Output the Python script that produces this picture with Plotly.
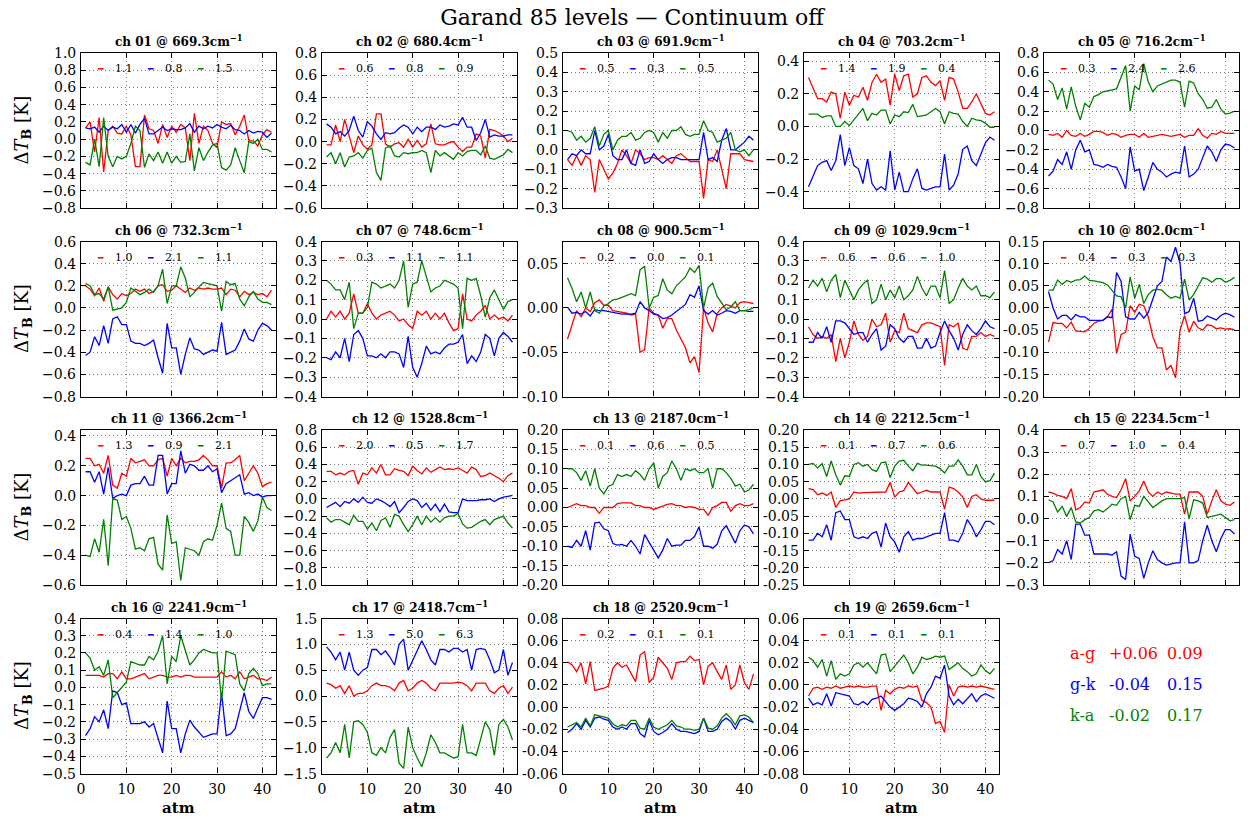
import plotly.graph_objects as go

W, H = 1253, 823

# ---------------- data ----------------
channel_ids = ["01", "02", "03", "04", "05", "06", "07", "08", "09", "10",
               "11", "12", "13", "14", "15", "16", "17", "18", "19"]
wavenumbers = ["669.3", "680.4", "691.9", "703.2", "716.2", "732.3", "748.6", "900.5", "1029.9", "802.0",
               "1366.2", "1528.8", "2187.0", "2212.5", "2234.5", "2241.9", "2418.7", "2520.9", "2659.6"]
y_lo = [-0.8, -0.6, -0.3, -0.5, -0.8, -0.8, -0.4, -0.10, -0.4, -0.20,
        -0.6, -1.0, -0.20, -0.25, -0.3, -0.5, -1.5, -0.06, -0.08]
y_hi = [1.0, 0.8, 0.5, 0.45, 0.8, 0.6, 0.4, 0.075, 0.4, 0.15,
        0.44, 0.8, 0.20, 0.20, 0.4, 0.4, 1.5, 0.08, 0.06]
y_step = [0.2, 0.2, 0.1, 0.2, 0.2, 0.2, 0.1, 0.05, 0.1, 0.05,
          0.2, 0.2, 0.05, 0.05, 0.1, 0.1, 0.5, 0.02, 0.02]
x_ticks = [0, 10, 20, 30, 40]
leg_ag = ["1.1", "0.6", "0.5", "1.4", "0.3", "1.0", "0.3", "0.2", "0.6", "0.4",
          "1.3", "2.0", "0.1", "0.1", "0.7", "0.4", "1.3", "0.2", "0.1"]
leg_gk = ["0.8", "0.8", "0.3", "1.9", "2.4", "2.1", "1.1", "0.0", "0.6", "0.3",
          "0.9", "0.5", "0.6", "0.7", "1.0", "1.4", "5.0", "0.1", "0.1"]
leg_ka = ["1.5", "0.9", "0.5", "0.4", "2.6", "1.1", "1.1", "0.1", "1.0", "0.3",
          "2.1", "1.7", "0.5", "0.6", "0.4", "1.0", "6.3", "0.1", "0.1"]

pair_names = ["a-g", "g-k", "k-a"]
pair_mean = ["+0.06", "-0.04", "-0.02"]
pair_sd = ["0.09", "0.15", "0.17"]

ag01 = [0.13, 0.20, -0.15, 0.25, -0.38, 0.10, 0.15, 0.07, 0.06, 0.15,
        0.05, -0.32, -0.32, 0.28, 0.12, 0.10, -0.05, 0.17, 0.02, 0.15,
        0.08, 0.17, 0.13, -0.25, 0.30, -0.05, 0.15, 0.10, -0.05, -0.10,
        0.20, 0.17, 0.18, 0.05, 0.15, 0.28, -0.02, -0.02, -0.08, 0.05,
        0.11, 0.08]
gk01 = [0.13, 0.12, 0.14, 0.08, 0.15, 0.10, 0.14, 0.12, 0.17, 0.08,
        0.17, 0.07, 0.17, 0.24, 0.06, 0.06, 0.10, 0.14, 0.10, 0.12,
        0.11, 0.11, 0.13, 0.18, 0.08, 0.15, 0.12, 0.15, 0.13, 0.17,
        0.14, 0.12, 0.16, 0.11, 0.10, 0.06, 0.10, 0.07, 0.09, 0.08,
        0.02, 0.07]
ka01 = [-0.27, -0.30, 0.00, -0.32, 0.25, -0.20, -0.32, -0.20, -0.23, -0.20,
        -0.05, 0.15, 0.10, -0.33, -0.17, -0.25, -0.15, -0.28, -0.15, -0.28,
        -0.20, -0.27, -0.26, 0.06, -0.37, -0.10, -0.25, -0.15, -0.07, -0.05,
        -0.33, -0.36, -0.30, -0.10, -0.25, -0.39, -0.03, -0.05, 0.00, -0.12,
        -0.12, -0.15]

ag02 = [-0.03, -0.03, 0.15, 0.00, 0.20, 0.05, -0.10, 0.05, -0.03, -0.07,
        -0.03, 0.25, 0.25, -0.02, -0.05, -0.02, -0.01, -0.05, 0.02, -0.05,
        0.01, -0.05, -0.02, 0.16, -0.02, -0.03, -0.03, -0.01, 0.00, -0.05,
        -0.09, -0.05, -0.05, 0.07, 0.05, -0.15, 0.11, 0.10, 0.08, 0.05,
        0.00, 0.03]
gk02 = [0.16, 0.13, 0.07, 0.09, 0.05, 0.10, 0.23, 0.10, 0.04, 0.18,
        0.14, 0.07, 0.02, 0.08, 0.07, 0.08, 0.12, 0.15, 0.13, 0.07,
        0.13, 0.09, 0.13, 0.13, 0.11, 0.15, 0.13, 0.14, 0.16, 0.15,
        0.22, 0.13, 0.13, 0.01, 0.08, 0.20, 0.04, 0.06, 0.05, 0.05,
        0.06, 0.06]
ka02 = [-0.14, -0.10, -0.20, -0.10, -0.23, -0.14, -0.13, -0.10, -0.15, -0.08,
        -0.06, -0.28, -0.35, -0.06, -0.04, -0.13, -0.14, -0.10, -0.11, -0.10,
        -0.10, -0.08, -0.10, -0.28, -0.08, -0.13, -0.10, -0.13, -0.16, -0.10,
        -0.13, -0.09, -0.08, -0.08, -0.12, -0.04, -0.15, -0.16, -0.14, -0.12,
        -0.07, -0.10]

ag03 = [-0.05, -0.08, -0.03, -0.08, -0.03, -0.05, -0.22, -0.05, -0.10, -0.15,
        -0.12, -0.07, 0.00, -0.03, -0.07, 0.00, -0.02, -0.05, -0.04, -0.04,
        -0.05, -0.03, -0.05, -0.07, -0.03, -0.02, -0.04, -0.06, -0.06, -0.06,
        -0.25, -0.05, -0.06, 0.00, -0.10, -0.20, -0.02, -0.02, -0.02, -0.05,
        -0.055, -0.06]
gk03 = [-0.05, -0.02, -0.03, 0.00, -0.02, -0.02, 0.10, 0.00, 0.02, 0.08,
        -0.03, -0.05, -0.05, 0.00, -0.07, -0.08, 0.00, -0.07, -0.06, -0.02,
        -0.05, -0.07, -0.05, -0.04, -0.04, -0.05, -0.05, -0.05, -0.05, -0.05,
        0.09, -0.05, -0.04, -0.06, 0.05, 0.11, 0.00, 0.00, 0.02, 0.04,
        0.07, 0.05]
ka03 = [0.10, 0.09, 0.05, 0.07, 0.04, 0.06, 0.12, 0.02, 0.08, 0.10,
        0.00, 0.05, 0.07, 0.07, 0.09, 0.05, 0.06, 0.09, 0.10, 0.09,
        0.04, 0.09, 0.06, 0.10, 0.10, 0.12, 0.08, 0.07, 0.08, 0.08,
        0.15, 0.10, 0.09, 0.04, 0.05, 0.06, 0.09, 0.00, -0.01, 0.00,
        -0.03, 0.00]

ag04 = [0.30, 0.23, 0.17, 0.17, 0.15, 0.21, 0.20, 0.05, 0.21, 0.13,
        0.19, 0.18, 0.24, 0.16, 0.27, 0.32, 0.27, 0.29, 0.13, 0.32,
        0.22, 0.31, 0.32, 0.18, 0.20, 0.30, 0.31, 0.27, 0.25, 0.28,
        0.16, 0.30, 0.29, 0.21, 0.11, 0.11, 0.15, 0.20, 0.14, 0.08,
        0.07, 0.09]
gk04 = [-0.37, -0.30, -0.24, -0.22, -0.21, -0.27, -0.21, -0.05, -0.24, -0.13,
        -0.24, -0.26, -0.35, -0.20, -0.35, -0.39, -0.37, -0.39, -0.15, -0.39,
        -0.28, -0.40, -0.40, -0.32, -0.26, -0.38, -0.39, -0.38, -0.37, -0.37,
        -0.17, -0.39, -0.36, -0.29, -0.14, -0.12, -0.21, -0.24, -0.17, -0.10,
        -0.065, -0.085]
ka04 = [0.075, 0.075, 0.075, 0.055, 0.065, 0.065, 0.00, 0.00, 0.03, 0.005,
        0.04, 0.08, 0.11, 0.035, 0.08, 0.07, 0.10, 0.10, 0.015, 0.07,
        0.06, 0.09, 0.085, 0.135, 0.06, 0.065, 0.07, 0.09, 0.11, 0.09,
        0.015, 0.09, 0.08, 0.075, 0.03, 0.00, 0.05, 0.04, 0.035, 0.02,
        -0.005, -0.005]

ag05 = [-0.04, -0.05, -0.03, -0.07, 0.00, -0.05, -0.06, -0.03, -0.06, -0.04,
        -0.01, -0.01, -0.02, -0.05, -0.03, -0.04, -0.07, -0.05, -0.04, -0.04,
        -0.07, -0.03, -0.07, -0.06, -0.05, -0.04, -0.05, -0.06, -0.05, -0.04,
        -0.07, -0.05, -0.05, 0.02, -0.05, -0.08, -0.03, -0.04, -0.01, -0.03,
        -0.03, -0.03]
gk05 = [-0.47, -0.42, -0.30, -0.35, -0.22, -0.40, -0.20, -0.10, -0.22, -0.20,
        -0.35, -0.36, -0.38, -0.35, -0.37, -0.38, -0.48, -0.60, -0.17, -0.42,
        -0.40, -0.62, -0.48, -0.33, -0.40, -0.43, -0.48, -0.45, -0.43, -0.44,
        -0.16, -0.48, -0.45, -0.40, -0.28, -0.16, -0.22, -0.32, -0.20, -0.14,
        -0.15, -0.18]
ka05 = [0.52, 0.48, 0.32, 0.44, 0.22, 0.45, 0.25, 0.11, 0.28, 0.24,
        0.35, 0.37, 0.40, 0.41, 0.42, 0.43, 0.55, 0.67, 0.20, 0.46,
        0.42, 0.69, 0.50, 0.40, 0.46, 0.48, 0.50, 0.52, 0.52, 0.50,
        0.24, 0.51, 0.49, 0.38, 0.32, 0.23, 0.24, 0.32, 0.22, 0.17,
        0.18, 0.20]

ag06 = [0.20, 0.17, 0.11, 0.18, 0.06, 0.19, 0.12, 0.08, 0.13, 0.11,
        0.13, 0.17, 0.15, 0.17, 0.13, 0.15, 0.20, 0.21, 0.15, 0.16,
        0.20, 0.17, 0.14, 0.18, 0.16, 0.18, 0.17, 0.18, 0.17, 0.17,
        0.18, 0.12, 0.17, 0.16, 0.10, 0.15, 0.12, 0.14, 0.12, 0.13,
        0.10, 0.16]
gk06 = [-0.43, -0.40, -0.26, -0.34, -0.16, -0.32, -0.10, -0.08, -0.15, -0.15,
        -0.30, -0.32, -0.32, -0.34, -0.32, -0.29, -0.45, -0.59, -0.14, -0.36,
        -0.36, -0.60, -0.42, -0.27, -0.37, -0.38, -0.42, -0.40, -0.38, -0.39,
        -0.13, -0.42, -0.40, -0.38, -0.30, -0.19, -0.28, -0.30, -0.20, -0.14,
        -0.16, -0.20]
ka06 = [0.22, 0.20, 0.12, 0.13, 0.08, 0.19, -0.02, -0.01, 0.00, 0.05,
        0.18, 0.15, 0.12, 0.14, 0.17, 0.14, 0.20, 0.35, 0.04, 0.20,
        0.20, 0.37, 0.27, 0.10, 0.14, 0.19, 0.23, 0.22, 0.21, 0.20,
        -0.03, 0.24, 0.21, 0.22, 0.08, 0.02, 0.10, 0.15, 0.08, 0.05,
        0.05, 0.03]

ag07 = [0.00, 0.04, 0.01, 0.04, 0.00, 0.03, 0.13, 0.03, 0.03, 0.08,
        0.03, 0.00, 0.02, 0.03, 0.04, 0.02, -0.01, 0.00, -0.03, -0.05,
        0.04, 0.02, 0.04, 0.00, 0.03, 0.00, 0.03, -0.02, -0.06, -0.05,
        0.13, 0.00, -0.01, 0.02, 0.04, 0.07, 0.00, 0.02, 0.00, 0.01,
        -0.01, 0.02]
gk07 = [-0.20, -0.21, -0.17, -0.20, -0.10, -0.22, -0.08, -0.06, -0.10, -0.19,
        -0.19, -0.20, -0.18, -0.20, -0.17, -0.17, -0.18, -0.25, -0.09, -0.25,
        -0.30, -0.23, -0.14, -0.18, -0.17, -0.18, -0.15, -0.13, -0.13, -0.12,
        -0.08, -0.23, -0.19, -0.22, -0.17, -0.08, -0.10, -0.19, -0.10, -0.07,
        -0.09, -0.12]
ka07 = [0.20, 0.18, 0.15, 0.15, 0.10, 0.19, -0.05, 0.03, 0.03, 0.06,
        0.19, 0.18, 0.16, 0.17, 0.18, 0.16, 0.20, 0.30, 0.06, 0.18,
        0.19, 0.30, 0.22, 0.14, 0.16, 0.17, 0.20, 0.19, 0.18, 0.16,
        -0.05, 0.21, 0.20, 0.21, 0.12, 0.01, 0.11, 0.15, 0.10, 0.05,
        0.09, 0.10]

ag08 = [-0.035, -0.02, -0.003, -0.01, 0.0, -0.004, 0.006, 0.009, 0.003, 0.003,
        -0.003, -0.004, -0.005, -0.006, -0.008, -0.007, -0.05, -0.047, 0.0, -0.006,
        -0.008, -0.023, -0.012, -0.012, -0.025, -0.035, -0.045, -0.062, -0.055, -0.073,
        0.0, -0.017, -0.027, -0.006, 0.0, 0.004, 0.002, 0.0, 0.006, 0.007,
        0.006, 0.005]
gk08 = [0.001, -0.006, -0.005, -0.007, -0.004, -0.009, -0.002, -0.003, -0.003, -0.004,
        -0.005, -0.006, -0.007, -0.007, -0.007, -0.006, 0.007, 0.0, -0.003, -0.007,
        -0.008, -0.012, -0.011, -0.008, -0.004, 0.0, 0.004, 0.015, 0.012, 0.025,
        -0.003, -0.007, -0.003, -0.008, -0.006, -0.003, -0.004, -0.006, -0.003, -0.003,
        -0.004, -0.004]
ka08 = [0.034, 0.022, 0.007, 0.018, 0.0, 0.018, -0.003, -0.006, 0.002, 0.005,
        0.009, 0.01, 0.012, 0.014, 0.016, 0.014, 0.043, 0.047, 0.0, 0.012,
        0.014, 0.033, 0.02, 0.016, 0.025, 0.03, 0.035, 0.045, 0.04, 0.048,
        0.0, 0.023, 0.028, 0.013, 0.005, -0.002, 0.001, 0.007, -0.003, -0.003,
        -0.002, 0.0]

ag09 = [-0.04, -0.08, -0.10, -0.09, -0.10, -0.08, -0.22, -0.10, -0.20, -0.12,
        -0.01, -0.08, -0.11, -0.09, 0.00, -0.04, -0.03, 0.03, -0.12, -0.06,
        -0.07, 0.03, -0.05, -0.06, -0.07, -0.03, -0.02, -0.02, -0.03, -0.04,
        -0.24, -0.03, -0.04, -0.02, -0.15, -0.16, -0.09, -0.09, -0.07, -0.09,
        -0.08, -0.09]
gk09 = [-0.12, -0.12, -0.07, -0.10, -0.04, -0.12, -0.01, -0.01, -0.02, -0.05,
        -0.08, -0.07, -0.07, -0.12, -0.08, -0.05, -0.16, -0.14, -0.03, -0.05,
        -0.10, -0.12, -0.09, -0.09, -0.15, -0.15, -0.10, -0.15, -0.14, -0.07,
        -0.01, -0.06, -0.10, -0.16, -0.08, -0.03, -0.06, -0.08, -0.05, -0.01,
        -0.04, -0.05]
ka09 = [0.16, 0.20, 0.17, 0.21, 0.14, 0.20, 0.23, 0.11, 0.20, 0.15,
        0.10, 0.15, 0.18, 0.20, 0.08, 0.10, 0.18, 0.10, 0.15, 0.11,
        0.17, 0.10, 0.12, 0.15, 0.22, 0.16, 0.12, 0.17, 0.17, 0.11,
        0.25, 0.08, 0.10, 0.16, 0.21, 0.17, 0.15, 0.17, 0.12, 0.12,
        0.11, 0.14]

ag10 = [-0.077, -0.033, -0.035, -0.035, -0.045, -0.032, -0.052, -0.053, -0.054, -0.046,
        -0.035, -0.030, -0.028, -0.020, -0.003, -0.103, -0.060, -0.055, 0.005, -0.010,
        0.008, 0.005, -0.020, -0.065, -0.090, -0.090, -0.140, -0.130, -0.158, -0.050,
        -0.017, -0.055, -0.030, -0.045, -0.050, -0.038, -0.040, -0.047, -0.045, -0.048,
        -0.047, -0.049]
gk10 = [0.037, 0.000, -0.025, -0.017, -0.017, -0.027, -0.015, -0.020, -0.020, -0.028,
        -0.028, -0.028, -0.028, -0.020, -0.022, 0.080, 0.060, -0.020, -0.025, -0.025,
        -0.010, -0.023, -0.010, 0.020, 0.050, 0.060, 0.115, 0.105, 0.137, 0.100,
        -0.013, -0.008, 0.022, -0.030, -0.028, -0.018, -0.022, -0.027, -0.017, -0.012,
        -0.015, -0.021]
ka10 = [0.040, 0.040, 0.063, 0.053, 0.062, 0.058, 0.063, 0.064, 0.072, 0.062,
        0.061, 0.059, 0.057, 0.052, 0.040, 0.027, 0.025, 0.000, 0.070, 0.022,
        0.053, 0.010, 0.030, 0.040, 0.042, 0.040, 0.030, 0.022, 0.026, 0.022,
        0.065, 0.018, 0.030, 0.050, 0.068, 0.065, 0.058, 0.066, 0.066, 0.058,
        0.062, 0.069]

ag11 = [0.25, 0.25, 0.20, 0.21, 0.15, 0.27, 0.07, 0.05, 0.15, 0.13,
        0.25, 0.22, 0.23, 0.24, 0.20, 0.20, 0.24, 0.25, 0.13, 0.25,
        0.20, 0.25, 0.22, 0.23, 0.23, 0.24, 0.27, 0.24, 0.20, 0.20,
        0.05, 0.22, 0.22, 0.24, 0.27, 0.10, 0.15, 0.20, 0.15, 0.06,
        0.08, 0.09]
gk11 = [0.16, 0.16, 0.09, 0.16, 0.01, 0.19, -0.02, 0.00, 0.01, 0.00,
        0.07, 0.08, 0.08, 0.13, 0.07, 0.07, 0.27, 0.27, 0.01, 0.08,
        0.08, 0.30, 0.15, 0.21, 0.20, 0.17, 0.17, 0.20, 0.16, 0.18,
        0.02, 0.08, 0.10, 0.12, 0.14, 0.01, 0.02, 0.00, 0.01, -0.01,
        0.00, 0.00]
ka11 = [-0.40, -0.41, -0.29, -0.38, -0.16, -0.47, -0.02, -0.03, -0.16, -0.14,
        -0.22, -0.36, -0.35, -0.37, -0.29, -0.28, -0.46, -0.50, -0.13, -0.32,
        -0.31, -0.57, -0.35, -0.36, -0.37, -0.40, -0.31, -0.29, -0.30, -0.20,
        -0.05, -0.22, -0.24, -0.40, -0.40, -0.14, -0.18, -0.24, -0.17, -0.01,
        -0.08, -0.10]

ag12 = [0.32, 0.32, 0.28, 0.30, 0.28, 0.32, 0.33, 0.17, 0.30, 0.28,
        0.36, 0.30, 0.40, 0.28, 0.28, 0.35, 0.33, 0.32, 0.27, 0.38,
        0.33, 0.29, 0.36, 0.31, 0.34, 0.37, 0.34, 0.35, 0.34, 0.36,
        0.33, 0.30, 0.37, 0.34, 0.26, 0.27, 0.30, 0.27, 0.24, 0.20,
        0.27, 0.30]
gk12 = [-0.10, -0.07, -0.04, -0.09, -0.03, -0.05, 0.00, -0.04, 0.02, -0.04,
        -0.05, 0.00, -0.02, -0.05, -0.09, -0.03, -0.16, -0.10, -0.03, 0.00,
        -0.02, -0.10, -0.05, -0.13, -0.06, -0.15, -0.06, -0.15, -0.16, -0.16,
        0.00, -0.02, -0.02, -0.02, -0.01, -0.01, 0.00, -0.03, 0.00, 0.02,
        0.03, 0.04]
ka12 = [-0.22, -0.27, -0.24, -0.24, -0.27, -0.30, -0.19, -0.26, -0.26, -0.35,
        -0.28, -0.37, -0.25, -0.22, -0.33, -0.18, -0.20, -0.30, -0.38, -0.30,
        -0.20, -0.30, -0.20, -0.27, -0.22, -0.27, -0.22, -0.20, -0.20, -0.17,
        -0.29, -0.34, -0.33, -0.30, -0.26, -0.24, -0.30, -0.24, -0.22, -0.20,
        -0.28, -0.34]

ag13 = [0.000, 0.005, 0.010, 0.005, 0.005, 0.000, 0.000, -0.015, 0.000, 0.000,
        0.000, 0.010, 0.012, 0.012, 0.012, 0.005, 0.005, 0.000, 0.000, -0.005,
        0.000, 0.003, 0.008, 0.010, 0.005, 0.005, 0.000, 0.002, 0.000, -0.005,
        -0.005, -0.020, 0.000, 0.005, 0.013, 0.013, -0.010, 0.005, 0.010, 0.005,
        0.005, 0.010]
gk13 = [-0.100, -0.103, -0.085, -0.100, -0.060, -0.110, -0.040, -0.038, -0.055, -0.060,
        -0.093, -0.097, -0.095, -0.100, -0.085, -0.100, -0.120, -0.070, -0.090, -0.110,
        -0.130, -0.110, -0.080, -0.100, -0.097, -0.097, -0.085, -0.085, -0.075, -0.050,
        -0.100, -0.100, -0.105, -0.095, -0.060, -0.047, -0.070, -0.092, -0.060, -0.045,
        -0.050, -0.068]
ka13 = [0.100, 0.100, 0.090, 0.070, 0.095, 0.055, 0.100, 0.050, 0.035, 0.055,
        0.060, 0.085, 0.080, 0.085, 0.080, 0.095, 0.085, 0.070, 0.100, 0.115,
        0.050, 0.080, 0.090, 0.120, 0.100, 0.070, 0.100, 0.095, 0.100, 0.090,
        0.090, 0.100, 0.050, 0.100, 0.100, 0.090, 0.075, 0.055, 0.060, 0.040,
        0.045, 0.060]

ag14 = [0.030, 0.027, 0.012, 0.017, 0.010, 0.020, -0.025, -0.005, -0.003, 0.000,
        0.020, 0.017, 0.018, 0.018, 0.020, 0.020, 0.020, 0.020, 0.048, 0.005,
        0.020, 0.024, 0.048, 0.030, 0.015, 0.020, 0.025, 0.020, 0.020, 0.020,
        -0.030, 0.034, 0.030, 0.020, 0.005, -0.025, 0.007, 0.012, 0.000, -0.004,
        -0.004, -0.004]
gk14 = [-0.120, -0.120, -0.100, -0.110, -0.075, -0.120, -0.040, -0.035, -0.060, -0.060,
        -0.110, -0.115, -0.110, -0.115, -0.100, -0.095, -0.140, -0.070, -0.110, -0.125,
        -0.155, -0.110, -0.095, -0.120, -0.115, -0.115, -0.110, -0.105, -0.100, -0.100,
        -0.040, -0.120, -0.120, -0.125, -0.100, -0.060, -0.080, -0.110, -0.090, -0.065,
        -0.065, -0.075]
ka14 = [0.100, 0.103, 0.090, 0.102, 0.065, 0.110, 0.070, 0.040, 0.067, 0.065,
        0.100, 0.105, 0.095, 0.100, 0.085, 0.080, 0.105, 0.107, 0.062, 0.095,
        0.110, 0.112, 0.095, 0.082, 0.103, 0.098, 0.098, 0.097, 0.095, 0.088,
        0.075, 0.095, 0.095, 0.113, 0.095, 0.070, 0.070, 0.100, 0.065, 0.050,
        0.053, 0.075]

ag15 = [0.12, 0.115, 0.105, 0.10, 0.09, 0.135, 0.04, 0.05, 0.075, 0.07,
        0.12, 0.125, 0.13, 0.11, 0.10, 0.095, 0.13, 0.18, 0.08, 0.10,
        0.125, 0.17, 0.12, 0.10, 0.12, 0.11, 0.12, 0.115, 0.11, 0.11,
        0.02, 0.12, 0.12, 0.12, 0.10, 0.02, 0.08, 0.13, 0.08, 0.065,
        0.06, 0.075]
gk15 = [-0.20, -0.19, -0.14, -0.16, -0.10, -0.185, -0.025, -0.025, -0.075, -0.075,
        -0.16, -0.16, -0.16, -0.16, -0.165, -0.15, -0.26, -0.275, -0.07, -0.17,
        -0.18, -0.27, -0.20, -0.145, -0.185, -0.20, -0.21, -0.205, -0.20, -0.20,
        -0.015, -0.20, -0.20, -0.19, -0.10, -0.03, -0.10, -0.15, -0.09, -0.05,
        -0.05, -0.07]
ka15 = [0.085, 0.075, 0.03, 0.055, 0.01, 0.05, -0.015, -0.02, -0.005, 0.005,
        0.035, 0.04, 0.03, 0.045, 0.065, 0.06, 0.09, 0.10, -0.005, 0.06,
        0.055, 0.10, 0.075, 0.05, 0.065, 0.08, 0.09, 0.09, 0.09, 0.09,
        0.095, 0.00, 0.085, 0.08, 0.07, 0.005, 0.01, 0.015, 0.02, 0.005,
        -0.01, -0.005]

ag16 = [0.07, 0.07, 0.07, 0.07, 0.06, 0.08, 0.08, 0.05, 0.09, 0.05,
        0.05, 0.06, 0.07, 0.08, 0.05, 0.06, 0.07, 0.07, 0.06, 0.06,
        0.07, 0.06, 0.07, 0.07, 0.06, 0.06, 0.06, 0.06, 0.06, 0.06,
        0.09, 0.06, 0.07, 0.05, 0.09, 0.05, 0.06, 0.07, 0.05, 0.05,
        0.04, 0.06]
gk16 = [-0.28, -0.24, -0.17, -0.20, -0.13, -0.24, -0.02, -0.03, -0.10, -0.09,
        -0.21, -0.21, -0.21, -0.20, -0.23, -0.21, -0.30, -0.38, -0.08, -0.24,
        -0.24, -0.38, -0.27, -0.19, -0.23, -0.26, -0.29, -0.28, -0.27, -0.27,
        -0.03, -0.28, -0.27, -0.24, -0.13, -0.03, -0.14, -0.18, -0.12, -0.06,
        -0.06, -0.07]
ka16 = [0.20, 0.17, 0.10, 0.12, 0.07, 0.16, -0.06, -0.03, 0.00, 0.03,
        0.15, 0.14, 0.13, 0.13, 0.18, 0.16, 0.21, 0.30, 0.02, 0.18,
        0.15, 0.30, 0.22, 0.13, 0.16, 0.20, 0.22, 0.21, 0.20, 0.20,
        -0.08, 0.21, 0.20, 0.19, 0.02, -0.02, 0.08, 0.11, 0.08, 0.01,
        0.02, 0.02]

ag17 = [0.25, 0.22, 0.15, 0.20, 0.05, 0.20, 0.00, 0.05, 0.05, 0.10,
        0.20, 0.25, 0.20, 0.20, 0.17, 0.10, 0.25, 0.30, 0.10, 0.15,
        0.25, 0.30, 0.25, 0.15, 0.10, 0.25, 0.25, 0.25, 0.25, 0.27,
        0.25, 0.20, 0.10, 0.25, 0.25, 0.25, 0.10, 0.05, 0.15, 0.20,
        0.05, 0.17]
gk17 = [0.95, 0.85, 0.70, 0.85, 0.50, 0.85, 0.50, 0.40, 0.50, 0.55,
        0.90, 0.90, 0.80, 0.87, 0.75, 0.60, 1.00, 1.10, 0.50, 0.70,
        0.90, 1.07, 0.90, 0.70, 0.60, 0.90, 0.90, 0.85, 0.92, 0.92,
        0.85, 0.90, 0.50, 0.90, 0.92, 0.90, 0.70, 0.45, 0.50, 0.90,
        0.40, 0.65]
ka17 = [-1.20, -1.10, -0.90, -1.10, -0.55, -1.20, -0.50, -0.48, -0.55, -0.70,
        -1.10, -1.15, -1.00, -1.10, -0.80, -0.65, -1.30, -1.40, -0.60, -1.00,
        -1.20, -1.37, -1.10, -0.75, -0.90, -1.10, -1.10, -1.15, -1.20, -1.18,
        -0.55, -1.10, -1.10, -1.15, -0.80, -0.50, -0.65, -1.15, -0.55, -0.45,
        -0.60, -0.85]

ag18 = [0.041, 0.038, 0.032, 0.040, 0.021, 0.041, 0.015, 0.016, 0.017, 0.019,
        0.035, 0.040, 0.036, 0.038, 0.030, 0.023, 0.047, 0.050, 0.022, 0.027,
        0.045, 0.040, 0.035, 0.025, 0.040, 0.041, 0.041, 0.046, 0.042, 0.043,
        0.020, 0.037, 0.040, 0.032, 0.025, 0.038, 0.016, 0.020, 0.038, 0.022,
        0.016, 0.030]
gk18 = [-0.023, -0.020, -0.015, -0.020, -0.012, -0.018, -0.010, -0.009, -0.011, -0.012,
        -0.018, -0.020, -0.018, -0.020, -0.015, -0.015, -0.024, -0.027, -0.012, -0.022,
        -0.025, -0.023, -0.020, -0.015, -0.020, -0.022, -0.022, -0.023, -0.024, -0.022,
        -0.010, -0.022, -0.022, -0.020, -0.013, -0.010, -0.013, -0.020, -0.012, -0.010,
        -0.012, -0.014]
ka18 = [-0.018, -0.016, -0.014, -0.018, -0.010, -0.017, -0.007, -0.008, -0.009, -0.010,
        -0.015, -0.018, -0.016, -0.017, -0.012, -0.012, -0.019, -0.020, -0.010, -0.018,
        -0.020, -0.018, -0.016, -0.012, -0.017, -0.018, -0.020, -0.020, -0.021, -0.020,
        -0.010, -0.019, -0.020, -0.017, -0.010, -0.006, -0.010, -0.016, -0.008, -0.007,
        -0.009, -0.014]

ag19 = [-0.010, -0.003, -0.002, -0.004, -0.002, -0.003, -0.001, -0.003, -0.002, -0.001,
        -0.002, -0.001, -0.002, -0.002, -0.001, -0.001, -0.023, -0.005, -0.008, -0.004,
        -0.002, -0.003, -0.001, -0.002, -0.001, -0.014, -0.016, -0.020, -0.035, -0.033,
        -0.043, 0.000, -0.010, -0.002, -0.001, -0.002, -0.001, -0.002, -0.001, -0.002,
        -0.003, -0.004]
gk19 = [-0.012, -0.018, -0.016, -0.018, -0.008, -0.019, -0.007, -0.008, -0.009, -0.010,
        -0.017, -0.018, -0.015, -0.018, -0.013, -0.012, -0.010, -0.015, -0.020, -0.023,
        -0.020, -0.017, -0.012, -0.013, -0.015, -0.020, -0.008, -0.002, 0.008, 0.006,
        0.018, -0.010, -0.018, -0.013, -0.017, -0.012, -0.008, -0.015, -0.010, -0.008,
        -0.010, -0.012]
ka19 = [0.025, 0.022, 0.016, 0.023, 0.008, 0.022, 0.005, 0.010, 0.008, 0.010,
        0.018, 0.020, 0.016, 0.020, 0.015, 0.010, 0.027, 0.028, 0.012, 0.017,
        0.022, 0.027, 0.020, 0.010, 0.016, 0.025, 0.023, 0.024, 0.026, 0.025,
        0.026, 0.014, 0.017, 0.020, 0.015, 0.012, 0.008, 0.010, 0.018, 0.013,
        0.010, 0.015]

series_ag = [ag01, ag02, ag03, ag04, ag05, ag06, ag07, ag08, ag09, ag10,
             ag11, ag12, ag13, ag14, ag15, ag16, ag17, ag18, ag19]
series_gk = [gk01, gk02, gk03, gk04, gk05, gk06, gk07, gk08, gk09, gk10,
             gk11, gk12, gk13, gk14, gk15, gk16, gk17, gk18, gk19]
series_ka = [ka01, ka02, ka03, ka04, ka05, ka06, ka07, ka08, ka09, ka10,
             ka11, ka12, ka13, ka14, ka15, ka16, ka17, ka18, ka19]

# ---------------- styling / layout ----------------
RED, BLUE, GREEN = "#ff0000", "#0000ff", "#008000"
FONT = "DejaVu Serif"
COL_LEFT = [81, 322, 563, 804, 1044]
ROW_TOP = [53, 241.5, 430, 618.5]
PW, PH = 195, 155


def y_tick_values(lo, hi, step):
    k0 = int(round(lo / step))
    vals = []
    k = k0 - 1
    while k * step <= hi + 1e-9:
        v = round(k * step, 6)
        if v >= lo - 1e-9:
            vals.append(v)
        k += 1
    return vals


def fmt_tick(v, step):
    two = step < 0.1
    s = ("%.2f" if two else "%.1f") % abs(v)
    if v < -1e-12:
        s = ("-" if two else "\u2212") + s
    return s


fig = go.Figure()
annotations = []
layout_axes = {}

for i in range(len(channel_ids)):
    r, c = divmod(i, 5)
    n = "" if i == 0 else str(i + 1)
    xname, yname = "x" + n, "y" + n
    for ys, col in ((series_ag[i], RED), (series_gk[i], BLUE), (series_ka[i], GREEN)):
        fig.add_trace(go.Scatter(
            x=list(range(1, len(ys) + 1)), y=ys, mode="lines",
            line=dict(color=col, width=1.3), xaxis=xname, yaxis=yname,
            showlegend=False, hoverinfo="skip"))

    x0 = COL_LEFT[c] / W
    x1 = (COL_LEFT[c] + PW) / W
    y1 = 1 - ROW_TOP[r] / H
    y0 = 1 - (ROW_TOP[r] + PH) / H
    common = dict(
        ticks="inside", ticklen=5, tickwidth=1, tickcolor="black",
        mirror="allticks", showline=True, linecolor="black", linewidth=1.2,
        showgrid=True, gridcolor="#7a7a7a", griddash="1px,3px", gridwidth=1,
        zeroline=False, automargin=False,
        tickfont=dict(family=FONT, size=14, color="black"),
    )
    layout_axes["xaxis" + n] = dict(
        common, domain=[x0, x1], anchor=yname, range=[0, 43],
        tickmode="array", tickvals=x_ticks, ticktext=[str(v) for v in x_ticks],
        showticklabels=(i >= 15), ticklabelstandoff=3)
    eps = (y_hi[i] - y_lo[i]) * 1e-6
    tv = y_tick_values(y_lo[i], y_hi[i], y_step[i])
    layout_axes["yaxis" + n] = dict(
        common, domain=[y0, y1], anchor=xname,
        range=[y_lo[i] - eps, y_hi[i] + eps],
        tickmode="array", tickvals=tv, showticklabels=False)
    # y tick labels drawn as text at the tick positions (data coordinates)
    for v in tv:
        annotations.append(dict(
            xref="paper", yref=yname, x=(COL_LEFT[c] - 3) / W, y=v,
            xanchor="right", yanchor="middle", showarrow=False,
            text=fmt_tick(v, y_step[i]),
            font=dict(family=FONT, size=14, color="black")))

    xdom = xname + " domain"
    ydom = yname + " domain"
    # panel title
    annotations.append(dict(
        xref=xdom, yref=ydom, x=0.5, y=1, xanchor="center", yanchor="bottom",
        yshift=2, showarrow=False,
        text="<b>ch %s @ %scm<sup>\u22121</sup></b>" % (channel_ids[i], wavenumbers[i]),
        font=dict(family=FONT, size=12, color="black")))
    # in-panel legend
    for k, (val, col) in enumerate(((leg_ag[i], RED), (leg_gk[i], BLUE), (leg_ka[i], GREEN))):
        annotations.append(dict(
            xref=xdom, yref=ydom, x=(14 + 50 * k) / PW, y=1 - 16 / PH,
            xanchor="left", yanchor="middle", showarrow=False,
            text="\u2501", font=dict(family="DejaVu Sans", size=9, color=col)))
        annotations.append(dict(
            xref=xdom, yref=ydom, x=(32 + 50 * k) / PW, y=1 - 16 / PH,
            xanchor="left", yanchor="middle", showarrow=False,
            text=val, font=dict(family=FONT, size=11, color="black")))
    # axis labels
    if c == 0:
        annotations.append(dict(
            xref="paper", yref=ydom, x=23 / W, y=0.5, xanchor="center", yanchor="middle",
            showarrow=False, textangle=-90,
            text="\u0394<i>T</i><sub><b>B</b></sub> [K]",
            font=dict(family=FONT, size=18, color="black")))
    if i >= 15:
        annotations.append(dict(
            xref=xdom, yref="paper", x=0.5, y=1 - 808 / H, xanchor="center", yanchor="middle",
            showarrow=False, text="<b>atm</b>",
            font=dict(family=FONT, size=15, color="black")))

# summary statistics box
pair_colors = [RED, BLUE, GREEN]
for k in range(3):
    yk = 1 - (653 + 31 * k) / H
    for txt, xp in ((pair_names[k], 1068), (pair_mean[k], 1107), (pair_sd[k], 1165)):
        annotations.append(dict(
            xref="paper", yref="paper", x=xp / W, y=yk, xanchor="left", yanchor="middle",
            showarrow=False, text=txt,
            font=dict(family=FONT, size=16, color=pair_colors[k])))

fig.update_layout(
    width=W, height=H,
    margin=dict(l=0, r=0, t=0, b=0),
    paper_bgcolor="white", plot_bgcolor="white",
    showlegend=False,
    title=dict(text="Garand 85 levels \u2014 Continuum off", x=632 / W, y=1 - 17 / H,
               xanchor="center", yanchor="middle",
               font=dict(family=FONT, size=22, color="black")),
    annotations=annotations,
    **layout_axes)

fig.write_html("out.html")
